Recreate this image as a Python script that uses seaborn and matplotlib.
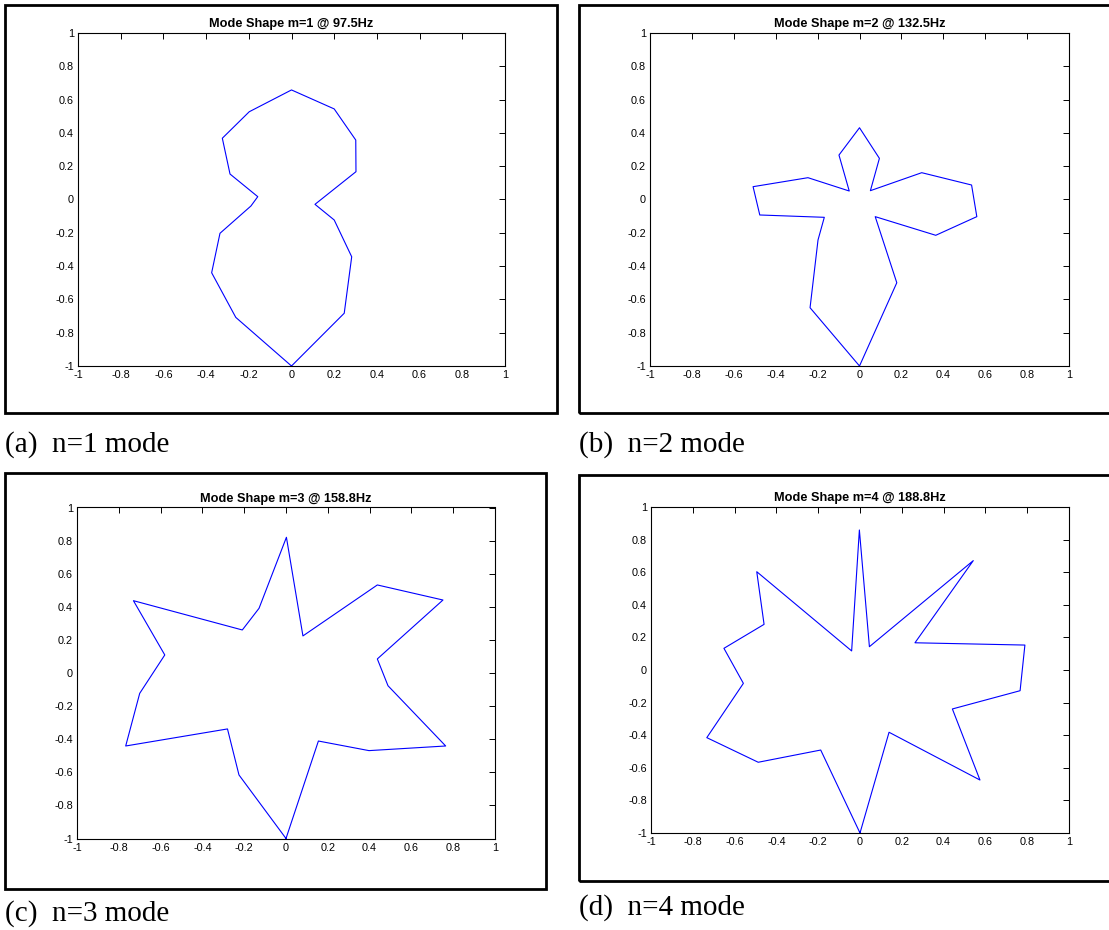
import numpy as np
import pandas as pd
import matplotlib
matplotlib.use("Agg")
import matplotlib.pyplot as plt
from matplotlib.patches import Rectangle
import seaborn as sns

# Deformed ring outlines for the first four modes, closed at the bottom node
m1_x = [0.0, -0.261, -0.374, -0.335, -0.190, -0.158, -0.288, -0.324, -0.198, 0.0,
        0.200, 0.301, 0.302, 0.110, 0.200, 0.282, 0.247, 0.0]
m1_y = [-1.0, -0.708, -0.440, -0.203, -0.039, 0.017, 0.153, 0.368, 0.527, 0.658,
        0.544, 0.357, 0.167, -0.029, -0.123, -0.344, -0.683, -1.0]

m2_x = [0.0, -0.236, -0.198, -0.168, -0.476, -0.508, -0.246, -0.049, -0.098, 0.0,
        0.095, 0.052, 0.297, 0.535, 0.560, 0.364, 0.075, 0.178, 0.0]
m2_y = [-1.0, -0.650, -0.243, -0.107, -0.093, 0.077, 0.131, 0.051, 0.267, 0.431,
        0.247, 0.053, 0.161, 0.087, -0.103, -0.215, -0.103, -0.500, -1.0]

m3_x = [0.0, -0.225, -0.280, -0.767, -0.700, -0.580, -0.730, -0.209, -0.129, 0.002,
        0.081, 0.437, 0.751, 0.437, 0.488, 0.764, 0.397, 0.155, 0.0]
m3_y = [-1.0, -0.616, -0.338, -0.441, -0.123, 0.109, 0.437, 0.260, 0.391, 0.820,
        0.224, 0.532, 0.441, 0.085, -0.077, -0.441, -0.469, -0.411, -1.0]

m4_x = [0.0, -0.188, -0.487, -0.733, -0.558, -0.651, -0.459, -0.494, -0.040, -0.003,
        0.045, 0.542, 0.263, 0.789, 0.766, 0.442, 0.574, 0.139, 0.0]
m4_y = [-1.0, -0.491, -0.566, -0.415, -0.082, 0.133, 0.280, 0.603, 0.117, 0.859,
        0.143, 0.671, 0.167, 0.153, -0.127, -0.239, -0.675, -0.382, -1.0]

mode_freqs = ["97.5", "132.5", "158.8", "188.8"]
captions = ["(a)  n=1 mode", "(b)  n=2 mode", "(c)  n=3 mode", "(d)  n=4 mode"]
tick_values = [-1, -0.8, -0.6, -0.4, -0.2, 0, 0.2, 0.4, 0.6, 0.8, 1]
tick_labels = ["-1", "-0.8", "-0.6", "-0.4", "-0.2", "0", "0.2", "0.4", "0.6", "0.8", "1"]

sns.set_style("white")
plt.rcParams["font.family"] = ["Liberation Sans", "DejaVu Sans"]
plt.rcParams["text.color"] = "black"
plt.rcParams["axes.labelcolor"] = "black"
plt.rcParams["xtick.color"] = "black"
plt.rcParams["ytick.color"] = "black"

W, H = 1109, 930
fig = plt.figure(figsize=(W / 100, H / 100), dpi=100)
fig.patch.set_facecolor("white")


def frac_rect(left, top, right, bottom):
    return [left / W, 1 - bottom / H, (right - left) / W, (bottom - top) / H]


# axes boxes (pixels) and surrounding window frames
axes_px = [(78, 33, 505, 366), (650, 33, 1069, 366),
           (77, 507.5, 495, 838.5), (651, 507, 1069, 833)]
frames_px = [(5, 5, 557, 413), (579, 5, 1115, 413),
             (5, 473, 546, 889), (579, 475, 1115, 881)]
caption_px = [(5, 445), (579, 445), (5, 914), (579, 908)]

shapes = [(m1_x, m1_y), (m2_x, m2_y), (m3_x, m3_y), (m4_x, m4_y)]

for i, ((xs, ys), freq) in enumerate(zip(shapes, mode_freqs)):
    l, t, r, b = frames_px[i]
    fig.add_artist(Rectangle((l / W, 1 - b / H), (r - l) / W, (b - t) / H,
                             transform=fig.transFigure, fill=False,
                             edgecolor="black", linewidth=2.0))

    ax = fig.add_axes(frac_rect(*axes_px[i]))
    df = pd.DataFrame({"x": xs, "y": ys})
    sns.lineplot(data=df, x="x", y="y", sort=False, estimator=None,
                 color="#0000ff", linewidth=0.8, ax=ax)
    ax.set_xlim(-1, 1)
    ax.set_ylim(-1, 1)
    ax.set_xticks(tick_values)
    ax.set_yticks(tick_values)
    ax.set_xticklabels(tick_labels)
    ax.set_yticklabels(tick_labels)
    ax.set_xlabel("")
    ax.set_ylabel("")
    ax.tick_params(direction="in", length=4, width=0.7, top=True, right=True,
                   labelsize=7.8, pad=3, colors="black")
    for sp in ax.spines.values():
        sp.set_visible(True)
        sp.set_color("black")
        sp.set_linewidth(0.8)
    ax.set_title(f"Mode Shape m={i + 1} @ {freq}Hz", fontsize=9.2,
                 fontweight="bold", pad=4, color="black")

    cx, cy = caption_px[i]
    fig.text(cx / W, 1 - cy / H, captions[i], family=["Liberation Serif"],
             fontsize=21, va="center", ha="left", color="black")

fig.savefig("out.png", dpi=100, facecolor="white")
